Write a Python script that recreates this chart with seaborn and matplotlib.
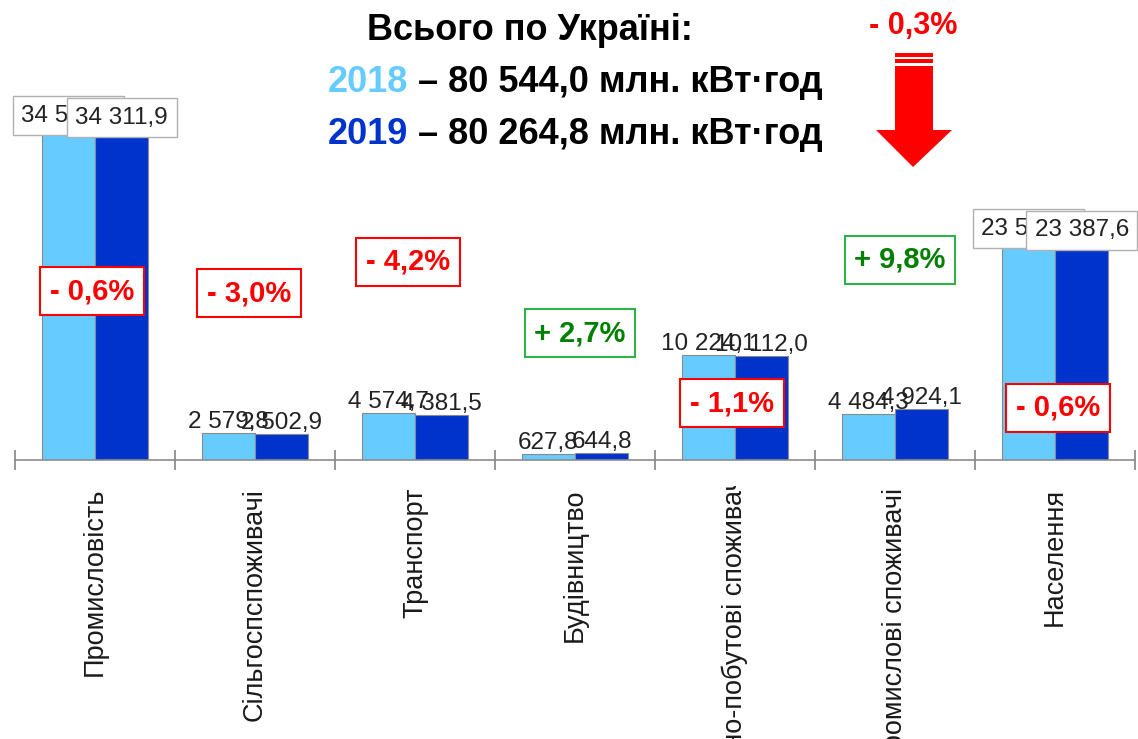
import numpy as np
import pandas as pd
import seaborn as sns
import matplotlib.pyplot as plt
from matplotlib.patches import Polygon, Rectangle
from matplotlib.transforms import Bbox, TransformedBbox

categories = ['Промисловість', 'Сільгоспспоживачі', 'Транспорт', 'Будівництво',
              'Комунально-побутові споживачі', 'Інші непромислові споживачі', 'Населення']
v2018 = [34519.4, 2579.8, 4574.7, 627.8, 10224.1, 4484.3, 23528.8]
v2019 = [34311.9, 2502.9, 4381.5, 644.8, 10112.0, 4924.1, 23387.6]
changes = ['- 0,6%', '- 3,0%', '- 4,2%', '+ 2,7%', '- 1,1%', '+ 9,8%', '- 0,6%']
total_2018 = '80 544,0'
total_2019 = '80 264,8'
total_change = '- 0,3%'

sns.set_theme(style='white')
plt.rcParams['font.family'] = ['Liberation Sans', 'DejaVu Sans']

df = pd.DataFrame({
    'cat': categories * 2,
    'value': v2018 + v2019,
    'year': ['2018'] * 7 + ['2019'] * 7,
})

W, H = 1138, 739
fig = plt.figure(figsize=(W / 100, H / 100), dpi=100)
ax = fig.add_axes([15 / W, 279 / H, 1120 / W, 365 / H])


def px(x, y):
    return x / W, (H - y) / H


sns.barplot(data=df, x='cat', y='value', hue='year', palette=['#66ccff', '#0033cc'],
            saturation=1, width=0.668, gap=0, edgecolor='#8a8a8a', linewidth=0.8,
            errorbar=None, legend=False, ax=ax)
ax.set_xlim(-0.5, 6.5)
ax.set_ylim(0, 35440)
ax.set_xlabel('')
ax.set_ylabel('')
ax.set_yticks([])
ax.set_xticks(np.arange(-0.5, 7, 1), labels=[''] * 8)
ax.tick_params(axis='x', direction='inout', length=15, width=1.3, color='#8c8c8c', bottom=True)
for s in ['left', 'top', 'right']:
    ax.spines[s].set_visible(False)
ax.spines['bottom'].set_color('#8c8c8c')
ax.spines['bottom'].set_linewidth(1.2)


def fmt(v):
    return f'{v:,.1f}'.replace(',', ' ').replace('.', ',')


# value labels: big bars get the label inside a white box
for cont in ax.containers:
    for bar in cont:
        v = bar.get_height()
        xc = bar.get_x() + bar.get_width() / 2
        if v > 20000:
            ax.annotate(fmt(v), (xc, v), xytext=(0, -8), textcoords='offset points',
                        ha='center', va='center', fontsize=17.5, color='#222222',
                        bbox=dict(boxstyle='square,pad=0.35', fc='white', ec='#b0b0b0', lw=1),
                        annotation_clip=False)
        else:
            ax.annotate(fmt(v), (xc, v), xytext=(0, 0), textcoords='offset points',
                        ha='center', va='bottom', fontsize=17.5, color='#222222')

# category labels, rotated and clipped below the axis
clip = TransformedBbox(Bbox.from_extents(0, 0, 1, (H - 486) / H), fig.transFigure)
for i, name in enumerate(categories):
    yoff = -10 / 365 if i == 4 else -28 / 365
    t = ax.text(i, yoff, name, transform=ax.get_xaxis_transform(), rotation=90,
                ha='center', va='top', fontsize=19.5, color='#1a1a1a')
    t.set_clip_box(clip)
    t.set_clip_on(True)

# percent change boxes
box_pos = [(92, 291), (249, 293), (408, 262), (580, 333), (732, 403), (900, 260), (1058, 408)]
for txt, (bx, by) in zip(changes, box_pos):
    up = txt.startswith('+')
    fig.text(*px(bx, by), txt, ha='center', va='center', fontsize=21, fontweight='bold',
             color='#008000' if up else '#ff0000',
             bbox=dict(boxstyle='square,pad=0.33', fc='white',
                       ec='#2db34a' if up else '#ff0000', lw=1.5))

# title block
fig.text(*px(530, 31), 'Всього по Україні:', ha='center', va='center',
         fontsize=26, fontweight='bold', color='black')
fig.text(*px(408, 82), '2018', ha='right', va='center', fontsize=26,
         fontweight='bold', color='#66ccff')
fig.text(*px(408, 82), f' – {total_2018} млн. кВт·год', ha='left', va='center',
         fontsize=26, fontweight='bold', color='black')
fig.text(*px(408, 135), '2019', ha='right', va='center', fontsize=26,
         fontweight='bold', color='#0033cc')
fig.text(*px(408, 135), f' – {total_2019} млн. кВт·год', ha='left', va='center',
         fontsize=26, fontweight='bold', color='black')

# red arrow with total change
fig.text(*px(913, 26), total_change, ha='center', va='center', fontsize=22,
         fontweight='bold', color='#ff0000')
red = '#ff0000'
arrow = [px(895, 66), px(933, 66), px(933, 130), px(952, 130), px(913, 167),
         px(876, 130), px(895, 130)]
fig.add_artist(Polygon(arrow, closed=True, fc=red, ec='none', transform=fig.transFigure))
for y0, y1 in [(53, 57), (59, 63)]:
    x0, yb = px(895, y1)
    fig.add_artist(Rectangle((x0, yb), 38 / W, (y1 - y0) / H, fc=red, ec='none',
                             transform=fig.transFigure))

fig.savefig('out.png', dpi=100)
